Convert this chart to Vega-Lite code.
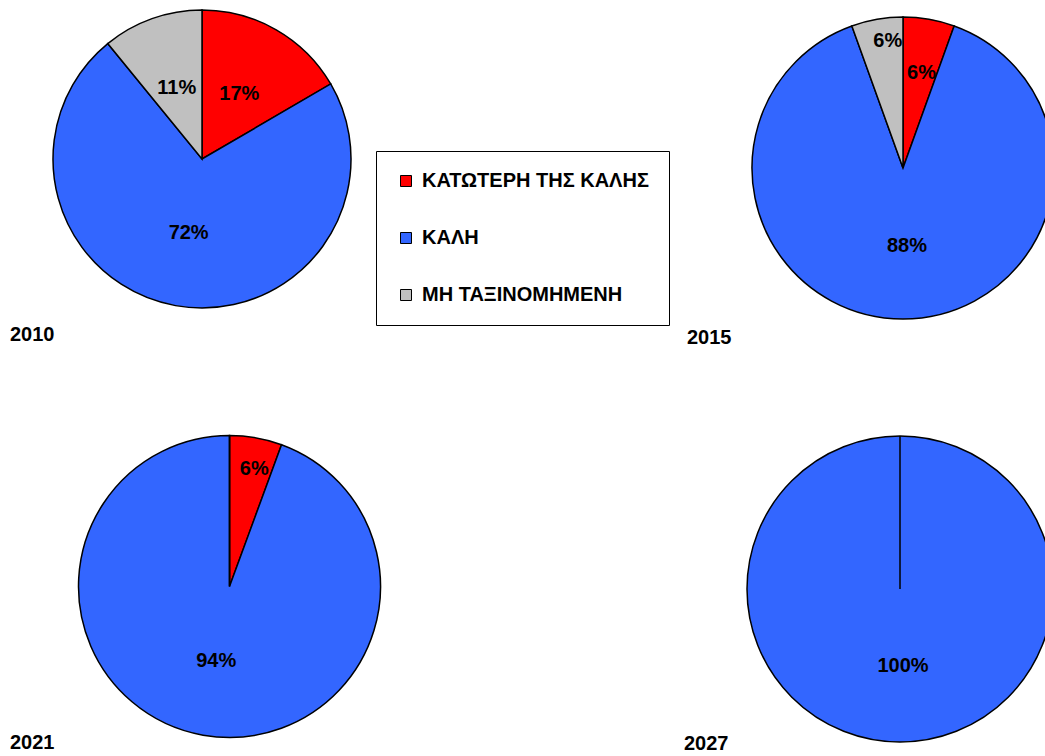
{
  "$schema": "https://vega.github.io/schema/vega-lite/v6.json",
  "padding": 0,
  "bounds": "flush",
  "align": "each",
  "columns": 2,
  "spacing": {"row": 110, "column": 302},
  "background": "white",
  "data": {"values": [
    {"year": "2010", "cat": "ΚΑΤΩΤΕΡΗ ΤΗΣ ΚΑΛΗΣ", "k": 1, "pct": 16.6, "label": "17%"},
    {"year": "2010", "cat": "ΚΑΛΗ", "k": 2, "pct": 72.5, "label": "72%"},
    {"year": "2010", "cat": "ΜΗ ΤΑΞΙΝΟΜΗΜΕΝΗ", "k": 3, "pct": 10.9, "label": "11%"},
    {"year": "2015", "cat": "ΚΑΤΩΤΕΡΗ ΤΗΣ ΚΑΛΗΣ", "k": 1, "pct": 5.5, "label": "6%"},
    {"year": "2015", "cat": "ΚΑΛΗ", "k": 2, "pct": 89, "label": "88%"},
    {"year": "2015", "cat": "ΜΗ ΤΑΞΙΝΟΜΗΜΕΝΗ", "k": 3, "pct": 5.5, "label": "6%"},
    {"year": "2021", "cat": "ΚΑΤΩΤΕΡΗ ΤΗΣ ΚΑΛΗΣ", "k": 1, "pct": 5.6, "label": "6%"},
    {"year": "2021", "cat": "ΚΑΛΗ", "k": 2, "pct": 94.4, "label": "94%"},
    {"year": "2021", "cat": "ΜΗ ΤΑΞΙΝΟΜΗΜΕΝΗ", "k": 3, "pct": 0, "label": "0%"},
    {"year": "2027", "cat": "ΚΑΤΩΤΕΡΗ ΤΗΣ ΚΑΛΗΣ", "k": 1, "pct": 0, "label": "0%"},
    {"year": "2027", "cat": "ΚΑΛΗ", "k": 2, "pct": 100, "label": "100%"},
    {"year": "2027", "cat": "ΜΗ ΤΑΞΙΝΟΜΗΜΕΝΗ", "k": 3, "pct": 0, "label": "0%"}
  ]},
  "resolve": {"scale": {"color": "shared"}, "legend": {"color": "shared"}},
  "concat": [
    {
      "width": 404, "height": 318,
      "title": {"text": "2010", "orient": "bottom", "anchor": "start", "frame": "group", "baseline": "alphabetic", "offset": 23, "dx": 10, "font": "Liberation Sans", "fontSize": 20, "fontWeight": "bold", "color": "black"},
      "transform": [{"filter": "datum.year == '2010'"}],
      "layer": [
        {"mark": {"type": "arc", "radius": 149, "stroke": "black", "strokeWidth": 1.5},
         "encoding": {
           "theta": {"field": "pct", "type": "quantitative", "stack": true},
           "order": {"field": "k", "type": "quantitative"},
           "color": {"field": "cat", "type": "nominal", "title": null,
             "scale": {"domain": ["ΚΑΤΩΤΕΡΗ ΤΗΣ ΚΑΛΗΣ", "ΚΑΛΗ", "ΜΗ ΤΑΞΙΝΟΜΗΜΕΝΗ"], "range": ["#FF0000", "#3366FF", "#C0C0C0"]}}
         }},
        {"transform": [{"filter": "datum.pct > 0"}],
         "mark": {"type": "text", "radius": 75, "font": "Liberation Sans", "fontSize": 20, "fontWeight": "bold", "color": "black"},
         "encoding": {
           "theta": {"field": "pct", "type": "quantitative", "stack": true},
           "order": {"field": "k", "type": "quantitative"},
           "text": {"field": "label"}
         }}
      ]
    },
    {
      "width": 284, "height": 336,
      "title": {"text": "2015", "orient": "bottom", "anchor": "start", "frame": "group", "baseline": "alphabetic", "offset": 8, "dx": -74, "font": "Liberation Sans", "fontSize": 20, "fontWeight": "bold", "color": "black"},
      "transform": [{"filter": "datum.year == '2015'"}],
      "layer": [
        {"mark": {"type": "arc", "radius": 151, "stroke": "black", "strokeWidth": 1.5},
         "encoding": {
           "theta": {"field": "pct", "type": "quantitative", "stack": true},
           "order": {"field": "k", "type": "quantitative"},
           "color": {"field": "cat", "type": "nominal", "title": null,
             "scale": {"domain": ["ΚΑΤΩΤΕΡΗ ΤΗΣ ΚΑΛΗΣ", "ΚΑΛΗ", "ΜΗ ΤΑΞΙΝΟΜΗΜΕΝΗ"], "range": ["#FF0000", "#3366FF", "#C0C0C0"]}}
         }},
        {"mark": {"type": "text", "radius": 78, "dx": 4, "font": "Liberation Sans", "fontSize": 20, "fontWeight": "bold", "color": "black"},
         "encoding": {
           "theta": {"field": "pct", "type": "quantitative", "stack": true},
           "order": {"field": "k", "type": "quantitative"},
           "text": {"condition": {"test": "datum.k == 2", "field": "label"}, "value": ""}
         }},
        {"mark": {"type": "text", "radius": 96, "dx": 2, "font": "Liberation Sans", "fontSize": 20, "fontWeight": "bold", "color": "black"},
         "encoding": {
           "theta": {"field": "pct", "type": "quantitative", "stack": true},
           "order": {"field": "k", "type": "quantitative"},
           "text": {"condition": {"test": "datum.k == 1", "field": "label"}, "value": ""}
         }},
        {"mark": {"type": "text", "radius": 129, "dx": 7, "font": "Liberation Sans", "fontSize": 20, "fontWeight": "bold", "color": "black"},
         "encoding": {
           "theta": {"field": "pct", "type": "quantitative", "stack": true},
           "order": {"field": "k", "type": "quantitative"},
           "text": {"condition": {"test": "datum.k == 3", "field": "label"}, "value": ""}
         }}
      ]
    },
    {
      "width": 459, "height": 281,
      "title": {"text": "2021", "orient": "bottom", "anchor": "start", "frame": "group", "baseline": "alphabetic", "offset": 8, "dx": 10, "font": "Liberation Sans", "fontSize": 20, "fontWeight": "bold", "color": "black"},
      "transform": [{"filter": "datum.year == '2021'"}],
      "layer": [
        {"mark": {"type": "arc", "radius": 151, "stroke": "black", "strokeWidth": 1.5},
         "encoding": {
           "theta": {"field": "pct", "type": "quantitative", "stack": true},
           "order": {"field": "k", "type": "quantitative"},
           "color": {"field": "cat", "type": "nominal", "title": null,
             "scale": {"domain": ["ΚΑΤΩΤΕΡΗ ΤΗΣ ΚΑΛΗΣ", "ΚΑΛΗ", "ΜΗ ΤΑΞΙΝΟΜΗΜΕΝΗ"], "range": ["#FF0000", "#3366FF", "#C0C0C0"]}}
         }},
        {"mark": {"type": "text", "radius": 76, "font": "Liberation Sans", "fontSize": 20, "fontWeight": "bold", "color": "black"},
         "encoding": {
           "theta": {"field": "pct", "type": "quantitative", "stack": true},
           "order": {"field": "k", "type": "quantitative"},
           "text": {"condition": {"test": "datum.k == 2", "field": "label"}, "value": ""}
         }},
        {"mark": {"type": "text", "radius": 119, "dx": 4, "font": "Liberation Sans", "fontSize": 20, "fontWeight": "bold", "color": "black"},
         "encoding": {
           "theta": {"field": "pct", "type": "quantitative", "stack": true},
           "order": {"field": "k", "type": "quantitative"},
           "text": {"condition": {"test": "datum.k == 1", "field": "label"}, "value": ""}
         }}
      ]
    },
    {
      "width": 278, "height": 286,
      "title": {"text": "2027", "orient": "bottom", "anchor": "start", "frame": "group", "baseline": "alphabetic", "offset": 5, "dx": -77, "font": "Liberation Sans", "fontSize": 20, "fontWeight": "bold", "color": "black"},
      "transform": [{"filter": "datum.year == '2027'"}],
      "layer": [
        {"mark": {"type": "arc", "radius": 153, "stroke": "black", "strokeWidth": 1.5},
         "encoding": {
           "theta": {"field": "pct", "type": "quantitative", "stack": true},
           "order": {"field": "k", "type": "quantitative"},
           "color": {"field": "cat", "type": "nominal", "title": null,
             "scale": {"domain": ["ΚΑΤΩΤΕΡΗ ΤΗΣ ΚΑΛΗΣ", "ΚΑΛΗ", "ΜΗ ΤΑΞΙΝΟΜΗΜΕΝΗ"], "range": ["#FF0000", "#3366FF", "#C0C0C0"]}}
         }},
        {"transform": [{"filter": "datum.pct > 0"}],
         "mark": {"type": "text", "radius": 77, "dx": 3, "font": "Liberation Sans", "fontSize": 20, "fontWeight": "bold", "color": "black"},
         "encoding": {
           "theta": {"field": "pct", "type": "quantitative", "stack": true},
           "order": {"field": "k", "type": "quantitative"},
           "text": {"field": "label"}
         }}
      ]
    }
  ],
  "config": {
    "view": {"stroke": null},
    "font": "Liberation Sans",
    "legend": {
      "orient": "none", "legendX": 376, "legendY": 151,
      "padding": 20, "rowPadding": 37,
      "symbolType": "square", "symbolSize": 121,
      "symbolStrokeColor": "black", "symbolStrokeWidth": 1, "symbolOpacity": 1,
      "labelFont": "Liberation Sans", "labelFontSize": 20, "labelFontWeight": "bold", "labelColor": "black",
      "labelOffset": 6, "labelLimit": 400,
      "strokeColor": "black", "fillColor": "white", "strokeWidth": 1
    }
  }
}
